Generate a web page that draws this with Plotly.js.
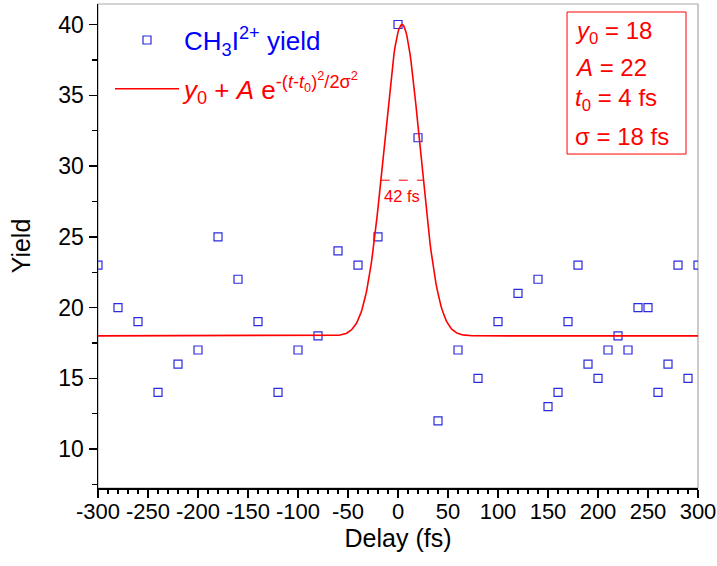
<!DOCTYPE html>
<html><head><meta charset="utf-8">
<script src="https://cdn.plot.ly/plotly-3.0.1.min.js"></script>
<style>html,body{margin:0;padding:0;background:#fff}#chart{width:717px;height:566px}</style>
</head><body><div id="chart"></div>
<script>
// Measured data: delay (fs) and CH3I2+ yield
const delay = [-300,-280,-260,-240,-220,-200,-180,-160,-140,-120,-100,-80,-60,-40,-20,0,20,40,60,80,100,120,140,150,160,170,180,190,200,210,220,230,240,250,260,270,280,290,300];
const yieldVals = [23,20,19,14,16,17,25,22,19,14,17,18,24,23,25,40,32,12,17,15,19,21,22,13,14,19,23,16,15,17,18,17,20,20,14,16,23,15,23];

// Gaussian fit parameters shown on the chart
const fitY0 = 18;
const fitA = 22;
const fitT0 = 4;
const fitSigma = 18;
const fwhmLabel = '42 fs';

// Tick labels
const xTicks = [-300,-250,-200,-150,-100,-50,0,50,100,150,200,250,300];
const yTicks = [10,15,20,25,30,35,40];

// Fit curve evaluated from the fitted model
const fitX = [];
const fitY = [];
for (let t = -300; t <= 300; t += 1) {
  fitX.push(t);
  fitY.push(fitY0 + fitA * Math.exp(-Math.pow(t - fitT0, 2) / (2 * fitSigma * fitSigma)));
}
const fwhm = 2 * Math.sqrt(2 * Math.log(2)) * fitSigma;
const halfMax = fitY0 + fitA / 2;

const FONT = "'Liberation Sans', Arial, sans-serif";
const RED = '#ff0000';
const BLUE = '#0000ff';

const traces = [
  {
    x: delay, y: yieldVals, type: 'scatter', mode: 'markers',
    name: 'CH<sub>3</sub>I<sup>2+</sup> yield',
    marker: {symbol: 'square-open', size: 8, color: '#2a2ae0', line: {width: 1.2, color: '#2a2ae0'}},
    legendgroup: 'a'
  },
  {
    x: fitX, y: fitY, type: 'scatter', mode: 'lines',
    name: '<span style="color:#ff0000"><i>y</i><sub>0</sub> + <i>A</i> e<sup>-(<i>t</i>-<i>t</i><sub>0</sub>)<sup>2</sup>/2σ<sup>2</sup></sup></span>',
    line: {color: RED, width: 1.6},
    legendgroup: 'b'
  }
];

const boxLines = [
  '<i>y</i><sub>0</sub> = ' + fitY0,
  '<i>A</i> = ' + fitA,
  '<i>t</i><sub>0</sub> = ' + fitT0 + ' fs',
  'σ = ' + fitSigma + ' fs'
];
const boxLineY = [0.942, 0.868, 0.803, 0.726];

const annotations = boxLines.map((txt, i) => ({
  xref: 'paper', yref: 'paper', x: 0.792, y: boxLineY[i],
  xanchor: 'left', yanchor: 'middle', showarrow: false,
  text: txt, font: {family: FONT, size: 24, color: RED}
}));
annotations.push({
  x: fitT0, y: halfMax, xref: 'x', yref: 'y', yanchor: 'top', yshift: -5,
  showarrow: false, text: fwhmLabel, font: {family: FONT, size: 16.5, color: RED}
});

const layout = {
  width: 717, height: 566,
  margin: {l: 98, r: 19, t: 4, b: 78},
  paper_bgcolor: '#fff', plot_bgcolor: '#fff',
  font: {family: FONT, color: '#000'},
  showlegend: true,
  legend: {
    x: 0.02, y: 0.974, xanchor: 'left', yanchor: 'top',
    bgcolor: 'rgba(0,0,0,0)', borderwidth: 0,
    font: {family: FONT, size: 26, color: BLUE},
    itemwidth: 64, tracegroupgap: 12
  },
  xaxis: {
    range: [-300, 300], tickvals: xTicks, ticktext: xTicks.map(String),
    ticks: 'outside', ticklen: 8, tickwidth: 1.5, tickcolor: '#000',
    minor: {dtick: 10, tick0: 0, ticks: 'outside', ticklen: 4, tickwidth: 1.2, tickcolor: '#000'},
    showline: true, linecolor: '#000', linewidth: 1.5, zeroline: false, showgrid: false,
    tickfont: {family: FONT, size: 22, color: '#000'}, ticklabelstandoff: -5,
    title: {text: 'Delay (fs)', font: {family: FONT, size: 25, color: '#000'}, standoff: 0}
  },
  yaxis: {
    range: [7.25, 41.45], tickvals: yTicks, ticktext: yTicks.map(String),
    ticks: 'outside', ticklen: 8, tickwidth: 1.5, tickcolor: '#000',
    minor: {dtick: 2.5, tick0: 0, ticks: 'outside', ticklen: 5, tickwidth: 1.2, tickcolor: '#000'},
    showline: true, linecolor: '#000', linewidth: 1.5, zeroline: false, showgrid: false,
    tickfont: {family: FONT, size: 23, color: '#000'},
    title: {text: 'Yield', font: {family: FONT, size: 25, color: '#000'}, standoff: 20}
  },
  shapes: [
    {type: 'rect', xref: 'paper', yref: 'paper', x0: 0, x1: 1, y0: 0, y1: 1,
     line: {color: '#a8a8a8', width: 1.2}, layer: 'below'},
    {type: 'rect', xref: 'paper', yref: 'paper', x0: 0.7817, x1: 0.98, y0: 0.69, y1: 0.9835,
     line: {color: RED, width: 1}, fillcolor: 'rgba(0,0,0,0)'},
    {type: 'line', xref: 'x', yref: 'y', x0: fitT0 - fwhm / 2, x1: fitT0 + fwhm / 2, y0: halfMax, y1: halfMax,
     line: {color: RED, width: 1, dash: 'dash'}}
  ],
  annotations: annotations
};

Plotly.newPlot('chart', traces, layout, {displayModeBar: false, staticPlot: true});
</script>
</body></html>
